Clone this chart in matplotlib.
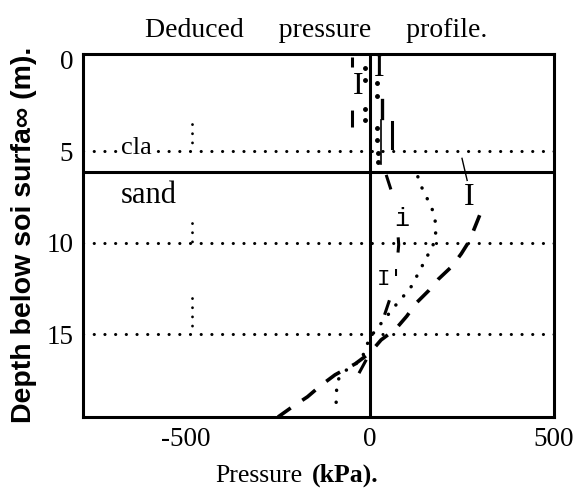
import matplotlib
matplotlib.use("Agg")
import matplotlib.pyplot as plt
import numpy as np

plt.rcParams['font.family'] = ['Liberation Serif', 'DejaVu Serif']
plt.rcParams['axes.unicode_minus'] = False
plt.rcParams['lines.scale_dashes'] = False

# axis ticks and layer boundary
x_ticks = [-500, 0, 500]
y_ticks = [0, 5, 10, 15]
boundary_depth = 6.15
grid_depths = [5, 10, 15]

# short dotted marker columns
col_press = -484
col_top = [3.5, 8.9, 13.0]
col_bottom = [5.0, 10.0, 15.0]

# heavy dashed profile "I" (sand)
heavy_depth = [8.5, 9.0, 9.9, 10.6, 11.3, 12.0, 12.6, 13.3, 14.0, 14.7, 15.3, 16.0, 16.6, 17.2, 17.8, 18.4, 19.0, 19.5]
heavy_press = [298, 288, 270, 248, 222, 185, 160, 125, 100, 70, 30, 0, -40, -95, -135, -170, -215, -250]

# dotted profile "i" (sand)
dot_depth = [6.4, 7.0, 7.7, 8.1, 8.8, 9.4, 9.9, 10.4, 10.8, 11.3, 11.9, 12.5, 13.0, 13.4, 13.9, 14.4, 14.9, 15.4, 16.4, 17.1, 17.6, 18.7]
dot_press = [130, 141, 158, 168, 177, 179, 174, 168, 152, 141, 125, 109, 87, 70, 50, 30, 10, -5, -24, -76, -90, -92]

# medium dashed profile "I'" (sand)
med_depth = [6.3, 7.3, 8.5, 10.1, 11.5, 13.0, 14.5, 16.0, 17.3, 18.3, 19.3]
med_press = [44, 60, 72, 78, 72, 55, 30, 0, -35, -30, 15]

# clay layer pieces
clay_left_depth = [-0.1, 3.7]
clay_left_press = [-49, -49]
clay_dots_a_depth = [0.5, 1.15, 2.7, 3.3]
clay_dots_a_press = [-14, -14, -14, -14]
clay_dots_b_depth = [1.3, 2.0, 3.75, 4.4, 5.1, 5.6]
clay_dots_b_press = [20, 20, 20, 20, 22, 22]
clay_dash_depth = [2.2, 3.2]
clay_dash_press = [33, 33]
clay_thin_depth = [3.3, 5.7]
clay_thin_press = [31, 31]
clay_short_depth = [3.4, 4.85]
clay_short_press = [60, 60]

fig = plt.figure(figsize=(5.81, 4.94), dpi=100)
ax = fig.add_axes([83/581, 1-417/494, 471/581, 363/494])

ax.set_xlim(-780, 500)
ax.set_ylim(19.5, -0.29)
ax.set_xticks(x_ticks)
ax.set_xticklabels([str(v) for v in x_ticks])
ax.set_yticks(y_ticks)
ax.tick_params(length=0, labelsize=19.5)
ax.tick_params(axis='x', pad=7)
ax.tick_params(axis='y', pad=7)
for s in ax.spines.values():
    s.set_linewidth(2.2)

dot_style = dict(color='k', lw=2.2, dashes=(0.1, 7.6), dash_capstyle='round')

for d in grid_depths:
    ax.plot([-780, 500], [d, d], **dot_style)
for t, b in zip(col_top, col_bottom):
    ax.plot([col_press, col_press], [t, b], color='k', lw=2.0, dashes=(0.1, 6.5), dash_capstyle='round')

ax.axvline(0, color='k', lw=2.2)
ax.axhline(boundary_depth, color='k', lw=2.2)

ax.plot(heavy_press, heavy_depth, color='k', lw=2.6, dashes=(12, 10), solid_capstyle='butt')
ax.plot(dot_press, dot_depth, color='k', lw=2.5, dashes=(0.1, 8.5), dash_capstyle='round')
ax.plot(med_press, med_depth, color='k', lw=2.2, dashes=(11, 35))

ax.plot(clay_left_press, clay_left_depth, color='k', lw=2.2, dashes=(7.2, 31, 12.2, 60))
ax.plot(clay_dots_a_press, clay_dots_a_depth, 'o', color='k', ms=2.5, ls='none')
ax.plot(clay_dots_b_press, clay_dots_b_depth, 'o', color='k', ms=2.5, ls='none')
ax.plot(clay_dash_press, clay_dash_depth, color='k', lw=2.4)
ax.plot(clay_thin_press, clay_thin_depth, color='k', lw=1.2)
ax.plot(clay_short_press, clay_short_depth, color='k', lw=2.2)

# leader for label I
ax.plot([250, 264], [5.4, 6.6], color='k', lw=1.0)

ax.text(-677, 5.17, 'cla', fontsize=19, va='baseline', ha='left',
        bbox=dict(facecolor='white', edgecolor='none', pad=0))
ax.text(-677, 7.85, 'sand', fontsize=22, va='baseline', ha='left')
ax.text(-33, 1.5, 'I', fontsize=23, va='center', ha='center')
ax.text(24, 0.5, 'I', fontsize=23, va='center', ha='center')
ax.text(269, 7.55, 'I', fontsize=23, va='center', ha='center')
ax.text(87, 8.7, 'i', fontsize=18, va='center', ha='center', family=['Liberation Mono', 'DejaVu Sans Mono'])
ax.text(55, 12.0, 'I\u2032', fontsize=16, va='center', ha='center', family=['Liberation Mono', 'DejaVu Sans Mono'])

fig.text(316/581, 1-37/494, 'Deduced     pressure     profile.', fontsize=20, ha='center', va='baseline')
fig.text(215/581, 1-482/494, 'Pressure', fontsize=18.5, ha='left', va='baseline')
fig.text(312/581, 1-482/494, '(kPa).', fontsize=18.5, ha='left', va='baseline', weight='bold')
fig.text(24/581, 1-235/494, 'Depth below soi surfa\u221e (m).', rotation=90, ha='center', va='center',
         fontsize=20.5, weight='bold', family=['Liberation Sans', 'DejaVu Sans'])

fig.savefig('out.png', dpi=100)
